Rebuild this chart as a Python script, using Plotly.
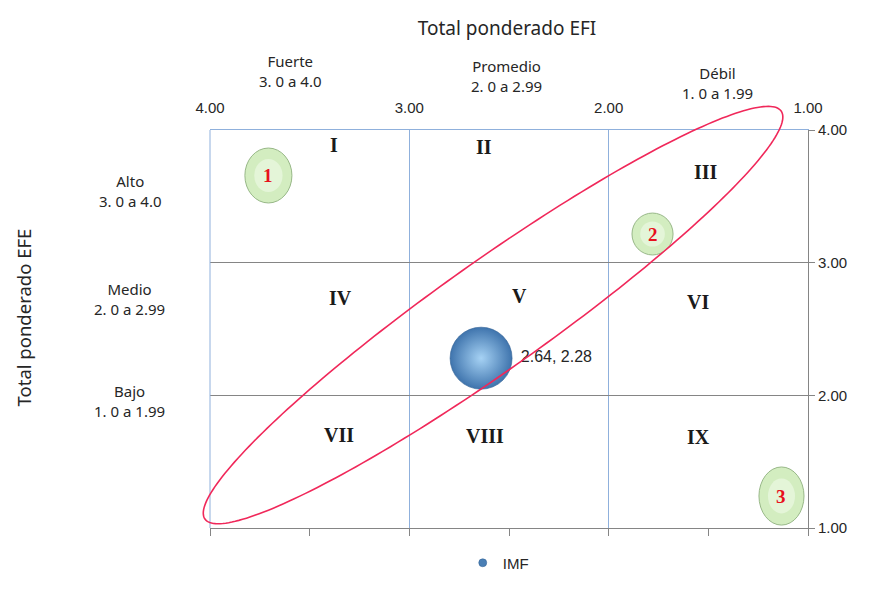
import numpy as np
import plotly.graph_objects as go

# ---------------- data ----------------
series_name = "IMF"
efi_values = [2.64]          # x : Total ponderado EFI
efe_values = [2.28]          # y : Total ponderado EFE

x_ticks = [4.0, 3.0, 2.0, 1.0]
y_ticks = [1.0, 2.0, 3.0, 4.0]

col_titles = ["Fuerte<br>3. 0 a 4.0", "Promedio<br>2. 0 a 2.99", "Débil<br>1. 0 a 1.99"]
col_pos_x = [0.134, 0.495, 0.849]
col_pos_y = [1.148, 1.136, 1.118]

row_titles = ["Alto<br>3. 0 a 4.0", "Medio<br>2. 0 a 2.99", "Bajo<br>1. 0 a 1.99"]
row_pos_y = [0.847, 0.575, 0.319]

quad_labels = ["I", "II", "III", "IV", "V", "VI", "VII", "VIII", "IX"]
quad_x = [3.378, 2.625, 1.512, 3.343, 2.445, 1.552, 3.353, 2.620, 1.547]
quad_y = [3.887, 3.872, 3.683, 2.734, 2.749, 2.703, 1.701, 1.693, 1.686]

zone_labels = ["1", "2", "3"]
zone_x = [3.707, 1.780, 1.133]
zone_y = [3.657, 3.216, 1.241]
zone_hw = [0.118, 0.103, 0.113]
zone_hh = [0.207, 0.158, 0.219]

# diagonal ellipse (centre in data units, axes in pixels)
ell_cx, ell_cy = 2.58, 2.605
ell_a, ell_b, ell_angle = 353.0, 54.0, 35.3

# ---------------- layout constants ----------------
W, H = 882, 590
OFF = 8                      # page body margin
ML, MT = 210 - OFF, 130 - OFF
PW, PH = 598, 398
MR, MB = W - ML - PW, H - MT - PH
XR = [4.0, 1.0]
YR = [1.0, 4.0]

SANS = "Noto Sans, Open Sans, sans-serif"
ARIAL = "Liberation Sans, Arial, sans-serif"
SERIF = "Liberation Serif, Times New Roman, serif"
TXT = "#262626"
BLUE_GRID = "#8fb0dc"
GRAY = "#858585"

fig = go.Figure()

# bubble
fig.add_trace(go.Scatter(
    x=efi_values, y=efe_values, mode="markers+text",
    text=[f"{a:.2f}, {b:.2f}" for a, b in zip(efi_values, efe_values)],
    textposition="middle right",
    textfont=dict(family=ARIAL, size=16, color=TXT),
    marker=dict(size=62, color="#3f74ad",
                gradient=dict(type="radial", color="#a6d2f4"),
                line=dict(color="#2f5f93", width=0.6)),
    showlegend=False, cliponaxis=False, hoverinfo="skip",
))
# legend entry
fig.add_trace(go.Scatter(
    x=[None], y=[None], mode="markers", name=series_name,
    marker=dict(size=8, color="#4a7fb5", line=dict(color="#2f5f93", width=0.5)),
))
# dummy for bottom axis
fig.add_trace(go.Scatter(x=[None], y=[None], xaxis="x2", yaxis="y",
                         showlegend=False, hoverinfo="skip"))

shapes = []
# green zone ellipses
for zx, zy, hw, hh in zip(zone_x, zone_y, zone_hw, zone_hh):
    shapes.append(dict(type="circle", xref="x", yref="y",
                       x0=zx - hw, x1=zx + hw, y0=zy - hh, y1=zy + hh,
                       fillcolor="#d3edc0", line=dict(color="#98b888", width=1),
                       layer="above"))
    shapes.append(dict(type="circle", xref="x", yref="y",
                       x0=zx - hw * 0.6, x1=zx + hw * 0.6, y0=zy - hh * 0.6, y1=zy + hh * 0.6,
                       fillcolor="#e4f5d8", line=dict(width=0), layer="above"))

# left border (blue)
shapes.append(dict(type="line", xref="paper", yref="paper", x0=0, x1=0, y0=0, y1=1,
                   line=dict(color=BLUE_GRID, width=1)))

# red ellipse in paper coordinates
t = np.linspace(0, 2 * np.pi, 241)
th = np.deg2rad(ell_angle)
dx = ell_a * np.cos(th) * np.cos(t) - ell_b * np.sin(th) * np.sin(t)
dy = ell_a * np.sin(th) * np.cos(t) + ell_b * np.cos(th) * np.sin(t)
cx_p = (XR[0] - ell_cx) / (XR[0] - XR[1])
cy_p = (ell_cy - YR[0]) / (YR[1] - YR[0])
px = cx_p + dx / PW
py = cy_p + dy / PH
path = "M " + " L ".join(f"{a:.5f},{b:.5f}" for a, b in zip(px, py)) + " Z"
shapes.append(dict(type="path", xref="paper", yref="paper", path=path,
                   line=dict(color="#f0285a", width=1.6), layer="above"))

annotations = []
for lab, qx, qy in zip(quad_labels, quad_x, quad_y):
    annotations.append(dict(x=qx, y=qy, xref="x", yref="y", text=f"<b>{lab}</b>",
                            xanchor="center", yanchor="middle",
                            showarrow=False, font=dict(family=SERIF, size=20, color="#1a1a1a")))
for lab, zx, zy in zip(zone_labels, zone_x, zone_y):
    annotations.append(dict(x=zx, y=zy, xref="x", yref="y", text=f"<b>{lab}</b>",
                            xanchor="center", yanchor="middle",
                            showarrow=False, font=dict(family=SERIF, size=19, color="#e8101c")))
for lab, cxp, cyp in zip(col_titles, col_pos_x, col_pos_y):
    annotations.append(dict(x=cxp, y=cyp, xref="paper", yref="paper", text=lab,
                            xanchor="center", yanchor="middle",
                            showarrow=False, font=dict(family=SANS, size=15, color=TXT)))
for lab, ryp in zip(row_titles, row_pos_y):
    annotations.append(dict(x=-0.134, y=ryp, xref="paper", yref="paper", text=lab,
                            xanchor="center", yanchor="middle",
                            showarrow=False, font=dict(family=SANS, size=15, color=TXT)))
annotations.append(dict(x=-0.312, y=0.530, xref="paper", yref="paper",
                        text="Total ponderado EFE", textangle=-90, showarrow=False,
                        xanchor="center", yanchor="middle",
                        font=dict(family=SANS, size=18.5, color=TXT)))

fig.update_layout(
    width=W, height=H,
    margin=dict(l=ML, r=MR, t=MT, b=MB),
    paper_bgcolor="white", plot_bgcolor="white",
    title=dict(text="Total ponderado EFI", x=(507 - OFF) / W, xref="container",
               y=1 - (28 - OFF) / H, yref="container", xanchor="center", yanchor="middle",
               font=dict(family=SANS, size=19, color=TXT)),
    xaxis=dict(range=XR, side="top", tickvals=x_ticks,
               ticktext=[f"{v:.2f}" for v in x_ticks],
               tickfont=dict(family=ARIAL, size=15, color=TXT),
               ticks="outside", ticklen=10, tickcolor="rgba(0,0,0,0)",
               showgrid=True, gridcolor=BLUE_GRID, gridwidth=1,
               showline=True, linecolor=BLUE_GRID, linewidth=1,
               zeroline=False, fixedrange=True),
    xaxis2=dict(range=XR, overlaying="x", side="bottom", dtick=0.5, tick0=1,
                showticklabels=False, ticks="outside", ticklen=7, tickcolor=GRAY,
                showgrid=False, showline=True, linecolor=GRAY, linewidth=1,
                zeroline=False, fixedrange=True),
    yaxis=dict(range=YR, side="right", tickvals=y_ticks,
               ticktext=[f"{v:.2f}" for v in y_ticks],
               tickfont=dict(family=ARIAL, size=15, color=TXT),
               ticks="outside", ticklen=6, tickcolor=GRAY,
               showgrid=True, gridcolor=GRAY, gridwidth=1,
               showline=True, linecolor=GRAY, linewidth=1,
               zeroline=False, fixedrange=True),
    legend=dict(orientation="h", x=0.482, y=-0.088, xanchor="center", yanchor="middle",
                font=dict(family=ARIAL, size=15, color=TXT), itemwidth=30,
                bgcolor="rgba(0,0,0,0)"),
    shapes=shapes, annotations=annotations,
)

fig.write_html("out.html")
